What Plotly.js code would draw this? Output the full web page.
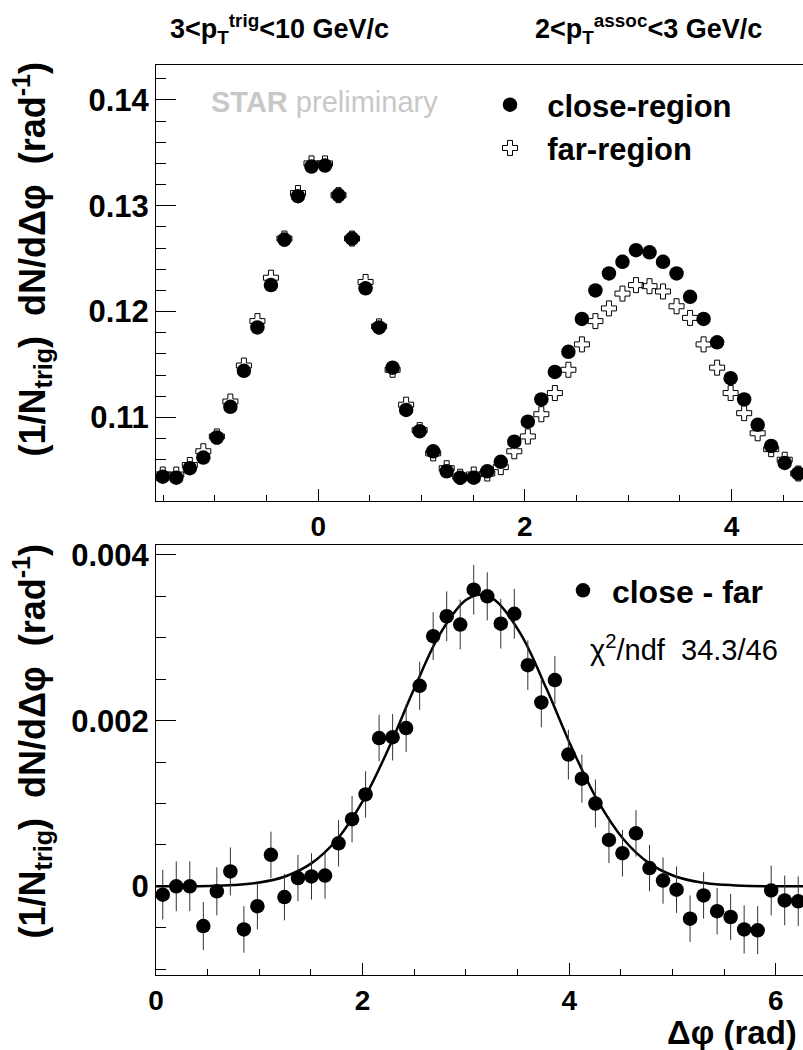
<!DOCTYPE html>
<html><head><meta charset="utf-8">
<script src="https://cdn.plot.ly/plotly-3.0.1.min.js"></script>
<style>html,body{margin:0;padding:0;background:#fff;overflow:hidden}#chart{width:805px;height:1050px}</style>
</head><body><div id="chart"></div>
<script>
// ---- data ----
const topX = [-1.5054,-1.3744,-1.2435,-1.1126,-0.9817,-0.8508,-0.7199,-0.5890,-0.4581,-0.3272,-0.1963,-0.0654,
  0.0654,0.1963,0.3272,0.4581,0.5890,0.7199,0.8508,0.9817,1.1126,1.2435,1.3744,1.5054,
  1.6363,1.7672,1.8981,2.0290,2.1598,2.2907,2.4216,2.5525,2.6834,2.8143,2.9452,3.0761,
  3.2070,3.3379,3.4688,3.5997,3.7306,3.8615,3.9924,4.1233,4.2542,4.3851,4.5160,4.6469];
const closeRegion = [0.1044,0.1043,0.1052,0.1062,0.1081,0.1110,0.1144,0.1185,0.1225,0.1268,0.1309,0.1337,
  0.1338,0.1310,0.1269,0.1222,0.1185,0.1147,0.1107,0.1087,0.1068,0.1049,0.1043,0.1043,
  0.1049,0.1058,0.1077,0.1096,0.1117,0.1143,0.1162,0.1193,0.1220,0.1236,0.1247,0.1258,
  0.1256,0.1247,0.1236,0.1214,0.1193,0.1171,0.1137,0.1117,0.1093,0.1073,0.1057,0.1047];
const farRegion = [0.1046,0.1046,0.1055,0.1068,0.1082,0.1115,0.1149,0.1191,0.1232,0.1269,0.1312,0.1340,
  0.1340,0.1310,0.1269,0.1228,0.1186,0.1145,0.1112,0.1088,0.1066,0.1052,0.1044,0.1046,
  0.1047,0.1053,0.1068,0.1082,0.1103,0.1123,0.1145,0.1169,0.1191,0.1203,0.1217,0.1225,
  0.1224,0.1219,0.1205,0.1194,0.1169,0.1147,0.1123,0.1104,0.1085,0.1070,0.1060,0.1047];

const diffX = [0.0654,0.1963,0.3272,0.4581,0.5890,0.7199,0.8508,0.9817,1.1126,1.2435,1.3744,1.5054,
  1.6363,1.7672,1.8981,2.0290,2.1598,2.2907,2.4216,2.5525,2.6834,2.8143,2.9452,3.0761,
  3.2070,3.3379,3.4688,3.5997,3.7306,3.8615,3.9924,4.1233,4.2542,4.3851,4.5160,4.6469,
  4.7778,4.9087,5.0396,5.1705,5.3014,5.4323,5.5632,5.6941,5.8250,5.9559,6.0868,6.2177];
const closeMinusFar = [-0.00010,0.00000,0.00000,-0.00048,-0.00006,0.00018,-0.00052,-0.00024,0.00038,-0.00013,0.00010,0.00012,
  0.00013,0.00052,0.00081,0.00111,0.00179,0.00180,0.00191,0.00242,0.00302,0.00326,0.00316,0.00358,
  0.00350,0.00317,0.00329,0.00267,0.00222,0.00249,0.00159,0.00130,0.00100,0.00056,0.00040,0.00064,
  0.00022,0.00007,-0.00004,-0.00039,-0.00011,-0.00030,-0.00037,-0.00052,-0.00053,-0.00005,-0.00017,-0.00018];
const closeMinusFarErr = [0.00030,0.00030,0.00030,0.00029,0.00029,0.00029,0.00028,0.00028,0.00028,0.00028,0.00028,0.00028,
  0.00028,0.00028,0.00028,0.00028,0.00028,0.00028,0.00029,0.00029,0.00029,0.00030,0.00030,0.00030,
  0.00029,0.00030,0.00030,0.00030,0.00030,0.00029,0.00030,0.00029,0.00029,0.00028,0.00028,0.00028,
  0.00028,0.00028,0.00028,0.00028,0.00028,0.00028,0.00028,0.00029,0.00029,0.00030,0.00030,0.00030];

// fit curve
const fitX = [0,0.5,0.75,1.0,1.25,1.5,1.75,2.0,2.25,2.5,2.75,3.0,3.14,3.28,3.53,3.78,4.03,4.28,4.53,4.78,5.03,5.28,5.5,5.75,6.2832];
const fitY = [0,0.000005,0.000016,0.000046,0.000119,0.000274,0.000563,0.001026,0.00166,0.002387,0.003047,0.003455,0.00352,
  0.003455,0.003047,0.002387,0.00166,0.001026,0.000563,0.000274,0.000119,0.000046,0.000018,0.000004,0];

const bottomYTicks = [0, 0.002, 0.004];
const bottomYTickText = ['0', '0.002', '0.004'];

// ---- style ----
const FONT = 'Liberation Sans, Arial, Helvetica, sans-serif';
const NB = '\u00a0';

const traces = [
  {x: topX, y: farRegion, xaxis: 'x', yaxis: 'y', type: 'scatter', mode: 'markers', name: NB + NB + 'far-region',
   marker: {symbol: 'cross-open', size: 12.5, color: '#000', line: {width: 1, color: '#000'}}, legend: 'legend'},
  {x: topX, y: closeRegion, xaxis: 'x', yaxis: 'y', type: 'scatter', mode: 'markers', name: NB + NB + 'close-region',
   marker: {symbol: 'circle', size: 14.5, color: '#000'}, legend: 'legend'},
  {x: fitX, y: fitY, xaxis: 'x2', yaxis: 'y2', type: 'scatter', mode: 'lines', showlegend: false,
   line: {color: '#000', width: 2.5, shape: 'spline', smoothing: 1}},
  {x: diffX, y: closeMinusFar, xaxis: 'x2', yaxis: 'y2', type: 'scatter', mode: 'markers', name: NB + 'close - far',
   marker: {symbol: 'circle', size: 14.5, color: '#000'},
   error_y: {type: 'data', array: closeMinusFarErr, visible: true, width: 0, thickness: 1, color: '#333'}, legend: 'legend2'}
];

const axBase = {
  showline: true, mirror: true, linecolor: '#000', linewidth: 1,
  showgrid: false, zeroline: false, ticks: 'inside', tickcolor: '#000', tickwidth: 1,
  tickfont: {family: FONT, size: 28, weight: 'bold', color: '#000'}
};

const PW = 649, L = 156, T = 65, B = 75, H = 1050;
const PH = H - T - B;
const px = X => (X - L) / PW;
const py = Y => (H - B - Y) / PH;

const yTitle = '(1/N<sub>trig</sub>)' + NB + ' dN/d\u0394\u03c6' + NB + ' (rad<sup>-1</sup>)';

const layout = {
  width: 805, height: 1050,
  margin: {l: L, r: 0, t: T, b: B},
  paper_bgcolor: '#fff', plot_bgcolor: '#fff',
  font: {family: FONT, color: '#000'},
  xaxis: Object.assign({}, axBase, {domain: [0, 1], anchor: 'y', range: [-1.5708, 4.7124],
    tickmode: 'linear', tick0: 0, dtick: 2, ticklen: 12,
    minor: {tickmode: 'linear', tick0: 0, dtick: 0.5, ticklen: 6, ticks: 'inside', tickcolor: '#000', tickwidth: 1}}),
  yaxis: Object.assign({}, axBase, {domain: [py(501), 1], anchor: 'x', range: [0.1021, 0.1433],
    tickmode: 'linear', tick0: 0, dtick: 0.01, tickformat: '.2f', ticklen: 20,
    tickfont: {family: FONT, size: 31, weight: 'bold', color: '#000'},
    minor: {tickmode: 'linear', tick0: 0, dtick: 0.002, ticklen: 10, ticks: 'inside', tickcolor: '#000', tickwidth: 1}}),
  xaxis2: Object.assign({}, axBase, {domain: [0, 1], anchor: 'y2', range: [0, 6.2832],
    tickmode: 'linear', tick0: 0, dtick: 2, ticklen: 12,
    minor: {tickmode: 'linear', tick0: 0, dtick: 0.5, ticklen: 6, ticks: 'inside', tickcolor: '#000', tickwidth: 1}}),
  yaxis2: Object.assign({}, axBase, {domain: [0, py(545)], anchor: 'x2', range: [-0.00107, 0.00412],
    tickmode: 'array', tickvals: bottomYTicks, ticktext: bottomYTickText, ticklen: 20,
    tickfont: {family: FONT, size: 31, weight: 'bold', color: '#000'},
    minor: {tickmode: 'linear', tick0: 0, dtick: 0.0005, ticklen: 10, ticks: 'inside', tickcolor: '#000', tickwidth: 1}}),
  legend: {x: px(490), y: py(78), xanchor: 'left', yanchor: 'top', bgcolor: 'rgba(0,0,0,0)',
    font: {family: FONT, size: 31, weight: 'bold', color: '#000'}, traceorder: 'reversed', tracegroupgap: 0},
  legend2: {x: px(563), y: py(563), xanchor: 'left', yanchor: 'top', bgcolor: 'rgba(0,0,0,0)',
    font: {family: FONT, size: 32, weight: 'bold', color: '#000'}},
  annotations: [
    {xref: 'paper', yref: 'paper', x: px(168), y: py(29), xanchor: 'left', yanchor: 'middle', showarrow: false,
     text: '3&lt;p<sub>T</sub><sup>trig</sup>&lt;10 GeV/c', font: {family: FONT, size: 27, weight: 'bold', color: '#000'}},
    {xref: 'paper', yref: 'paper', x: px(533), y: py(29), xanchor: 'left', yanchor: 'middle', showarrow: false,
     text: '2&lt;p<sub>T</sub><sup>assoc</sup>&lt;3 GeV/c', font: {family: FONT, size: 27, weight: 'bold', color: '#000'}},
    {xref: 'paper', yref: 'paper', x: px(209), y: py(102), xanchor: 'left', yanchor: 'middle', showarrow: false,
     text: '<b>STAR</b> preliminary', font: {family: FONT, size: 29, color: '#c8c8c8'}},
    {xref: 'paper', yref: 'paper', x: px(588), y: py(648), xanchor: 'left', yanchor: 'middle', showarrow: false,
     text: '\u03c7<sup>2</sup>/ndf' + NB + NB + '34.3/46', font: {family: FONT, size: 29, color: '#000'}},
    {xref: 'paper', yref: 'paper', x: px(799), y: py(1032), xanchor: 'right', yanchor: 'middle', showarrow: false,
     text: '\u0394\u03c6 (rad)', font: {family: FONT, size: 33, weight: 'bold', color: '#000'}},
    {xref: 'paper', yref: 'paper', x: px(32), y: py(60), xanchor: 'center', yanchor: 'top', showarrow: false, textangle: -90,
     text: yTitle, font: {family: FONT, size: 36, weight: 'bold', color: '#000'}},
    {xref: 'paper', yref: 'paper', x: px(32), y: py(542), xanchor: 'center', yanchor: 'top', showarrow: false, textangle: -90,
     text: yTitle, font: {family: FONT, size: 36, weight: 'bold', color: '#000'}}
  ]
};

Plotly.newPlot('chart', traces, layout, {displayModeBar: false, staticPlot: true});
</script>
</body></html>
